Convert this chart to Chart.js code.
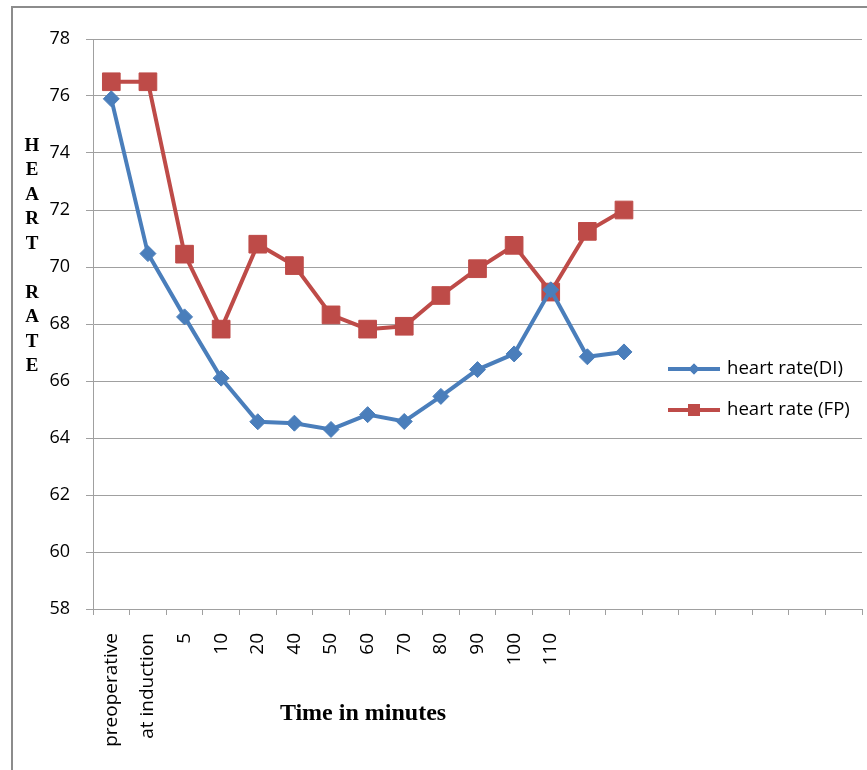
<!DOCTYPE html>
<html>
<head>
<meta charset="utf-8">
<script src="https://cdn.jsdelivr.net/npm/chart.js@4"></script>
<style>
  body { margin: 0; background: #fff; }
  #wrap { position: relative; width: 867px; height: 770px; }
</style>
</head>
<body>
<div id="wrap"><canvas id="grafico"></canvas></div>
<script>
// categorias do eixo x (as ultimas ficam sem rotulo, como no original)
const categorias = ['preoperative', 'at induction', '5', '10', '20', '40', '50', '60', '70', '80', '90', '100', '110',
  '', '', '', '', '', '', '', ''];

// valores
const freqDI = [75.9, 70.47, 68.25, 66.1, 64.57, 64.52, 64.3, 64.82, 64.58, 65.46, 66.4, 66.95, 69.2, 66.85, 67.02];
const freqFP = [76.5, 76.5, 70.45, 67.82, 70.8, 70.05, 68.32, 67.82, 67.92, 69.0, 69.94, 70.76, 69.12, 71.25, 72.0];

const nomesSeries = ['heart rate(DI)', 'heart rate (FP)'];
const tituloY = ['H', 'E', 'A', 'R', 'T', '', 'R', 'A', 'T', 'E'];
const tituloX = 'Time in minutes';

const azul = '#4a7ebb';
const vermelho = '#be4b48';
const cinza = '#a0a0a0';

// desenha moldura, titulos e legenda
const extras = {
  id: 'extras',
  beforeDraw(chart) {
    const ctx = chart.ctx;
    ctx.save();
    ctx.fillStyle = '#fff';
    ctx.fillRect(0, 0, chart.width, chart.height);
    ctx.strokeStyle = '#8c8c8c';
    ctx.lineWidth = 2;
    ctx.strokeRect(12, 7, 900, 800);
    ctx.restore();
  },
  afterDraw(chart) {
    const ctx = chart.ctx;
    const area = chart.chartArea;
    ctx.save();
    ctx.fillStyle = '#000';
    ctx.textAlign = 'center';
    ctx.textBaseline = 'middle';
    ctx.font = 'bold 19px "Liberation Serif"';
    tituloY.forEach((letra, i) => {
      ctx.fillText(letra, 32, 146 + i * 24.5);
    });
    ctx.font = 'bold 24px "Liberation Serif"';
    ctx.fillText(tituloX, area.left + 270, 714);

    // legenda
    const cores = [azul, vermelho];
    const estilos = ['rectRot', 'rect'];
    const raios = [5.5, 8.5];
    nomesSeries.forEach((nome, i) => {
      const y = 369 + i * 41;
      ctx.strokeStyle = cores[i];
      ctx.lineWidth = 4;
      ctx.beginPath();
      ctx.moveTo(668, y);
      ctx.lineTo(720, y);
      ctx.stroke();
      ctx.fillStyle = cores[i];
      Chart.helpers.drawPoint(ctx, { pointStyle: estilos[i], radius: raios[i], rotation: 0, borderWidth: 0 }, 694, y);
      ctx.fill();
      ctx.fillStyle = '#000';
      ctx.textAlign = 'left';
      ctx.font = '18.6px "Open Sans"';
      ctx.fillText(nome, 727, y);
    });
    ctx.restore();
  }
};

new Chart(document.getElementById('grafico'), {
  type: 'line',
  data: {
    labels: categorias,
    datasets: [{
      label: nomesSeries[0],
      data: freqDI,
      borderColor: azul,
      backgroundColor: azul,
      borderWidth: 4,
      pointStyle: 'rectRot',
      pointRadius: 8,
      pointHoverRadius: 8,
      pointBorderWidth: 1,
      tension: 0
    }, {
      label: nomesSeries[1],
      data: freqFP,
      borderColor: vermelho,
      backgroundColor: vermelho,
      borderWidth: 4,
      pointStyle: 'rect',
      pointRadius: 12.5,
      pointHoverRadius: 12.5,
      pointBorderWidth: 1,
      tension: 0
    }]
  },
  options: {
    responsive: true,
    maintainAspectRatio: false,
    animation: false,
    layout: { autoPadding: false, padding: { top: 39, right: 5, left: 0, bottom: 0 } },
    plugins: {
      legend: { display: false },
      tooltip: { enabled: false }
    },
    scales: {
      x: {
        offset: true,
        grid: { display: true, drawOnChartArea: false, drawTicks: true, tickLength: 6, color: cinza, offset: true },
        border: { display: true, color: cinza },
        ticks: {
          autoSkip: false,
          maxRotation: 90,
          minRotation: 90,
          padding: 18,
          color: '#000',
          font: { family: 'Open Sans', size: 19 }
        },
        afterFit(s) { s.height = 161; s.paddingLeft = 0; s.paddingRight = 0; }
      },
      y: {
        min: 58,
        max: 78,
        ticks: {
          stepSize: 2,
          padding: 16,
          color: '#000',
          font: { family: 'Open Sans', size: 18 }
        },
        grid: { color: cinza, tickLength: 7 },
        border: { display: true, color: cinza },
        afterFit(s) { s.width = 93; s.paddingTop = 0; s.paddingBottom = 0; }
      }
    }
  },
  plugins: [extras]
});
</script>
</body>
</html>
